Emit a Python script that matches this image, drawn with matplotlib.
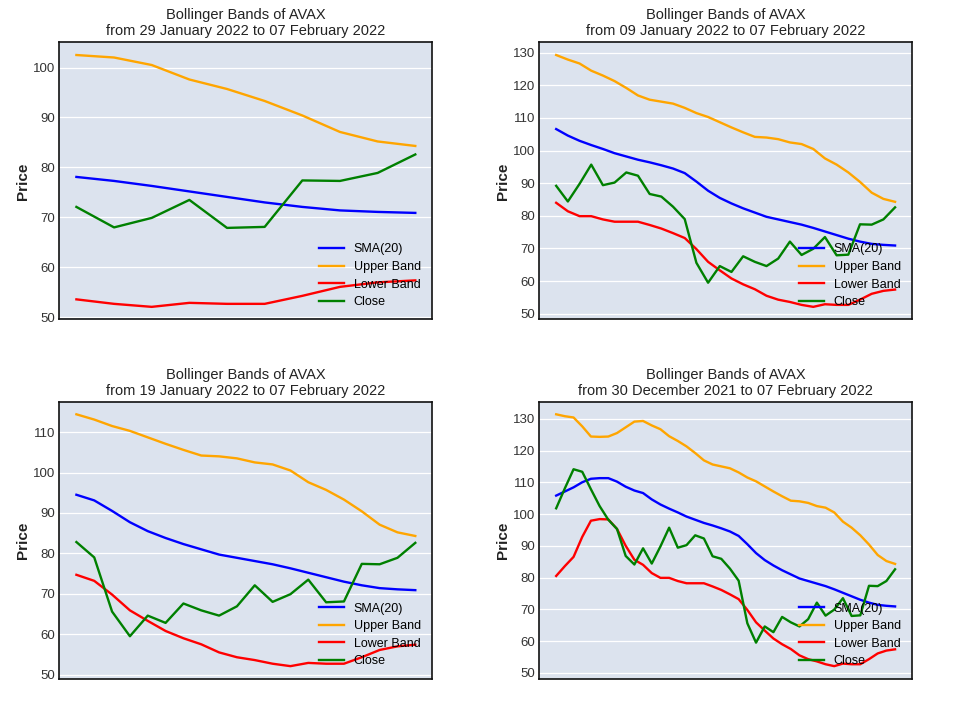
import numpy as np
import pandas as pd
import matplotlib
matplotlib.use('Agg')
import matplotlib.pyplot as plt

plt.rcParams['font.family'] = ['Liberation Sans', 'DejaVu Sans']

# daily values, 30 Dec 2021 .. 07 Feb 2022 (40 days)
dates = pd.date_range('2021-12-30', '2022-02-07', freq='D')

close = [101.8, 108.1, 114.1, 113.3, 107.8, 102.5, 98.2, 95.3, 86.8, 84.1,
         89.2, 84.4, 89.8, 95.7, 89.4, 90.2, 93.3, 92.3, 86.7, 85.9,
         82.8, 79.0, 65.6, 59.5, 64.6, 62.8, 67.6, 65.9, 64.6, 66.9,
         72.1, 68.0, 69.9, 73.5, 67.9, 68.1, 77.4, 77.3, 78.9, 82.6]

sma = [105.8, 107.1, 108.4, 110.0, 111.1, 111.3, 111.3, 110.2, 108.6, 107.4,
       106.6, 104.6, 103.0, 101.7, 100.5, 99.2, 98.2, 97.2, 96.4, 95.5,
       94.5, 93.1, 90.5, 87.7, 85.5, 83.8, 82.3, 81.0, 79.7, 78.9,
       78.1, 77.3, 76.3, 75.2, 74.1, 73.0, 72.1, 71.4, 71.1, 70.9]

upper = [131.4, 130.8, 130.4, 127.6, 124.4, 124.3, 124.4, 125.5, 127.3, 129.1,
         129.3, 127.9, 126.7, 124.5, 123.0, 121.3, 119.2, 116.9, 115.6, 115.0,
         114.4, 113.1, 111.5, 110.3, 108.7, 107.1, 105.6, 104.2, 104.0, 103.5,
         102.5, 102.0, 100.5, 97.6, 95.7, 93.3, 90.4, 87.1, 85.2, 84.3]

lower = [80.5, 83.6, 86.5, 92.8, 97.9, 98.4, 98.3, 95.3, 90.0, 85.6,
         84.0, 81.4, 79.9, 79.9, 78.9, 78.2, 78.2, 78.2, 77.2, 76.1,
         74.7, 73.2, 69.8, 65.9, 63.3, 60.8, 59.0, 57.5, 55.5, 54.3,
         53.6, 52.7, 52.1, 52.9, 52.7, 52.7, 54.3, 56.1, 57.0, 57.4]

# number of trailing days shown in each panel (row-major)
windows = [10, 30, 20, 40]


def draw_panel(ax, n):
    d = dates[-n:]
    ax.set_facecolor('#dce3ee')
    ax.plot(d, sma[-n:], color='blue', lw=1.7, label='SMA(20)')
    ax.plot(d, upper[-n:], color='orange', lw=1.7, label='Upper Band')
    ax.plot(d, lower[-n:], color='red', lw=1.7, label='Lower Band')
    ax.plot(d, close[-n:], color='green', lw=1.7, label='Close')
    ax.grid(axis='y', color='white', lw=0.9)
    ax.set_axisbelow(True)
    ax.set_xticks([])
    ax.tick_params(axis='y', length=0, pad=3, labelsize=9.5, labelcolor='#333333')
    for s in ax.spines.values():
        s.set_color('#111111')
        s.set_linewidth(1.2)
    ax.set_ylabel('Price', fontsize=11, fontweight='bold', color='#222222', labelpad=2)
    ax.set_title('Bollinger Bands of AVAX\nfrom %s to %s' % (d[0].strftime('%d %B %Y'),
                                                         d[-1].strftime('%d %B %Y')),
                 fontsize=10.5, color='#222222', pad=5, linespacing=1.2)
    ax.legend(loc='lower right', frameon=False, fontsize=9, labelspacing=0.45,
              handlelength=2.0, handletextpad=0.8)


fig, axes = plt.subplots(2, 2, figsize=(9.59, 7.19), dpi=100)
fig.subplots_adjust(left=0.062, right=0.951, top=0.941, bottom=0.056,
                    wspace=0.287, hspace=0.297)

for ax, n in zip(axes.flat, windows):
    draw_panel(ax, n)

plt.savefig('out.png', dpi=100, facecolor='white')
plt.close()
